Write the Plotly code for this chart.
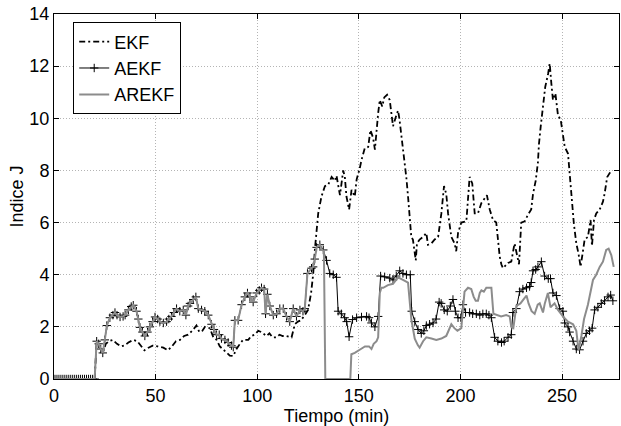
# Indice J vs tiempo: EKF / AEKF / AREKF comparison

import plotly.graph_objects as go

# ── Data ───────────────────────────────────────────────
EKF_T = [0, 20, 21, 22.5, 24, 25.5, 27, 29, 31, 33, 35, 36.6, 39, 41, 42.6, 44.5, 46.5,
         48.5, 51, 53.8, 56, 58, 60, 62, 64, 66, 68, 70.1, 71.5, 73, 74.3, 76.7, 78.4,
         80, 81.6, 83, 84.5, 86.5, 88.2, 89.8, 91.5, 93, 95.6, 97, 98.8, 100.5, 102,
         103.5, 104.6, 106, 107.5, 109.5, 111, 112.5, 114.4, 116.9, 118.5, 120, 121.5,
         123.4, 125, 126.5, 127.5, 128.4, 129.2, 130, 131.6, 133.3, 134.9, 136.6, 138.2,
         139, 140.7, 142.3, 143.1, 143.9, 145.2, 146.4, 148, 148.9, 150.5, 151.3, 152.9,
         154.6, 155.7, 157, 157.9, 158.7, 159.5, 160.3, 161.5, 162.5, 163.9, 165.2, 166,
         166.8, 168.4, 169.3, 170, 170.9, 172.5, 173.4, 174.2, 175, 175.8, 176.6, 178,
         178.6, 179.9, 181.6, 183.2, 184, 185.7, 187.3, 189, 190.6, 191.9, 193, 193.9,
         195.5, 197.1, 197.9, 198.8, 200.4, 202.9, 204.5, 205.8, 207, 208.6, 210.3,
         211.9, 213, 214.4, 216, 217.6, 218.5, 219.3, 220.1, 220.9, 223.4, 225, 226.6,
         227.5, 228.8, 229.9, 231.6, 233.2, 234.8, 235.7, 237, 238.1, 238.6, 239.5,
         240.6, 241.7, 243.1, 243.9, 244.7, 245.5, 246.7, 248, 249.3, 251.3, 252.9,
         253.7, 254.9, 255.8, 257, 258.1, 259.1, 259.9, 261.1, 262.7, 264, 264.7, 265.7,
         266.8, 268.5, 270.1, 270.9, 272.2, 273.4, 274.5]
EKF_J = [0, 0, 1.45, 1.2, 1.0, 1.35, 1.45, 1.5, 1.35, 1.25, 1.3, 1.4, 1.5, 1.45, 1.3, 1.1, 1.2,
         1.28, 1.25, 1.2, 1.1, 1.25, 1.45, 1.5, 1.65, 1.7, 1.85, 2.05, 1.8, 1.85, 2.0, 1.95, 1.6,
         1.5, 1.25, 1.15, 1.05, 0.9, 0.88, 1.15, 1.35, 1.5, 1.5, 1.65, 1.7, 1.85, 1.8,
         1.7, 1.65, 1.75, 1.6, 1.6, 1.7, 1.65, 1.65, 1.6, 2.1, 2.2, 2.25,
         2.45, 2.65, 3.3, 4.0, 5.0, 5.8, 6.35, 7.0, 7.4, 7.45, 7.75, 7.6,
         7.8, 7.05, 8.0, 7.75, 7.0, 6.5, 7.25, 7.0, 7.65, 8.1, 8.4, 8.85,
         8.9, 9.55, 9.25, 8.8, 9.7, 10.2, 10.7, 10.45, 10.8, 10.9, 10.7, 10.2,
         9.7, 10.1, 10.3, 9.95, 9.35, 8.5, 7.7, 7.0, 6.15, 5.45, 5.35, 4.55,
         5.2, 5.35, 5.45, 5.6, 5.15, 5.2, 5.35, 5.45, 6.35, 7.4, 7.1, 6.35,
         5.45, 5.2, 4.9, 5.6, 6.0, 6.05, 7.75, 7.5, 6.35, 6.35, 6.75,
         6.95, 7.05, 6.5, 6.1, 6.0, 5.35, 4.7, 4.4, 4.25, 4.45, 4.5, 5.2,
         4.85, 4.4, 6.0, 6.05, 6.3, 6.5, 7.1, 7.6, 8.3, 9.0, 9.7,
         10.45, 11.2, 11.7, 12.1, 11.35, 10.7, 10.95, 10.1, 9.95, 8.9, 8.65,
         7.9, 7.0, 5.95, 5.2, 4.8, 4.3, 4.7, 5.35, 5.45, 6.1, 5.1, 6.1,
         6.35, 6.5, 6.8, 7.1, 7.75, 7.9, 7.95]

# AEKF and AREKF coincide up to ~131 min
SHARED_T = [0, 1, 2, 3, 4, 5, 6, 7, 8, 9, 10, 11, 12, 13, 14, 15, 16, 17, 18, 19, 20,
            21, 22, 23, 24, 25, 26, 27.5, 29, 30, 31, 32.5, 34, 35, 36.6, 38, 39, 40.6,
            41.5, 42.3, 43.5, 44.7, 46, 47.2, 48.5, 49.7, 51, 52.1, 53.8, 55.4, 56.5,
            57.8, 59, 60.3, 61.9, 63.6, 64.9, 66, 66.9, 68.5, 69.8, 71, 72.6, 74.2,
            75.9, 77.5, 78.7, 80, 81.3, 82.4, 84.1, 85.7, 87.3, 88.2, 89, 90.6, 92.3,
            93.9, 95.2, 96.4, 98, 99.7, 101, 102.1, 103.4, 104.1, 105, 106.2, 107.9,
            109.5, 111.1, 112.8, 114.4, 116, 117.7, 119.3, 121, 122.5, 123.4, 124.7,
            126.7, 127.5, 128.3, 129.2, 130.8]
SHARED_J = [0, 0, 0, 0, 0, 0, 0, 0, 0, 0, 0, 0, 0, 0, 0, 0, 0, 0, 0, 0, 0,
            1.45, 1.35, 1.15, 1.0, 1.5, 2.05, 2.35, 2.45, 2.55, 2.45, 2.38, 2.4, 2.45, 2.65,
            2.78, 2.83, 2.6, 2.3, 1.98, 1.8, 1.65, 1.8, 2.0, 2.2, 2.38, 2.3, 2.2, 2.15,
            2.2, 2.3, 2.4, 2.55, 2.7, 2.6, 2.65, 2.45, 2.8, 2.9, 3.05, 3.15, 2.7, 2.65,
            2.6, 2.45, 2.1, 1.9, 1.7, 1.7, 1.55, 1.5, 1.4, 1.28, 1.22, 2.25, 2.25, 2.85,
            3.15, 3.3, 3.15, 2.95, 3.3, 3.4, 3.5, 3.45, 2.5, 3.25, 2.8, 2.45,
            2.5, 2.7, 2.7, 2.4, 2.2, 2.7, 2.4, 2.65, 2.6, 2.7, 4.05,
            4.25, 4.3, 4.6, 5.05, 5.15]

AEKF_TAIL_T = [132.5, 134.1, 135.7, 137.4, 139, 139.8, 141.4, 143, 144, 145.2, 146.9, 148.9,
               151.3, 153.8, 155, 156.2, 157.9, 159.5, 160.7, 162.7, 165.2, 166.8, 168.4,
               170.1, 171.7, 173.4, 175.3, 176, 177.5, 179.1, 180.7, 182, 183.2, 184.8,
               186.5, 188, 189.5, 190.5, 192, 193.5, 195, 196.3, 197.5, 198.8, 200.2,
               201.2, 202.5, 204.5, 206, 207.8, 209.5, 211, 212.7, 214, 215.2, 216.8,
               218.4, 220.2, 221.5, 223.4, 225, 225.8, 227.5, 229.1, 230.7, 232.5, 234,
               234.8, 235.7, 237, 238.1, 239.8, 241.4, 243.2, 244.3, 245.5, 247.2, 248.8,
               250.4, 251.3, 252.9, 253.7, 255.4, 257, 258.6, 260.3, 261.9, 263.5, 264.8,
               266, 267.6, 269.3, 270.9, 272.6, 273.9, 275]
AEKF_TAIL_J = [4.95, 4.55, 4.05, 4.0, 3.9, 2.6, 2.5, 2.35, 2.2, 1.62, 2.28, 2.35,
               2.38, 2.4, 2.35, 2.15, 2.0, 2.4, 3.95, 3.92, 3.87, 3.8, 3.95,
               4.15, 4.05, 4.0, 4.0, 2.6, 2.2, 1.9, 1.75, 1.85, 2.05, 2.1,
               2.15, 2.3, 2.95, 2.9, 2.65, 2.6, 2.8, 3.05, 2.6, 2.35, 2.35,
               2.85, 2.55, 2.55, 2.5, 2.5, 2.45, 2.5, 2.5, 2.45, 2.35, 1.6,
               1.45, 1.4, 1.45, 1.6, 1.7, 2.55, 2.7, 3.35, 3.45, 3.5, 3.55,
               3.7, 4.15, 4.2, 4.3, 4.5, 3.95, 3.85, 3.85, 3.3, 3.2, 2.7,
               2.6, 2.15, 2.0, 1.8, 1.45, 1.15, 1.12, 1.45, 1.75, 1.85, 1.95,
               2.65, 2.75, 2.9, 3.0, 3.15, 3.22, 3.0]

AREKF_TAIL_T = [131.5, 132.8, 133.5, 145.8, 146.3, 148, 149.7, 151, 153, 155, 156.2, 157.3,
                158.7, 159.5, 160.3, 161.1, 162, 164.3, 166.8, 168, 169.3, 171.7, 173,
                174.2, 175.8, 177.5, 179, 179.9, 181.6, 183.2, 185.7, 188.1, 190.6, 193,
                195.5, 197, 198.5, 200.4, 202, 203.7, 205.3, 206.5, 207.5, 208.6, 209.5,
                210.3, 211.5, 212.7, 214, 215.2, 216.2, 218.5, 220, 222.5, 224.2, 225,
                226, 227.5, 229.5, 231.5, 232.5, 233.5, 235, 236.5, 238, 239, 240.6,
                241.5, 243, 244.3, 246.3, 248, 250.4, 252.9, 255.4, 257, 258.1, 259.5,
                260.8, 262.7, 264, 265.2, 266.8, 268.5, 270.1, 271.7, 272.9, 274.2, 275.4]
AREKF_TAIL_J = [5.0, 4.9, 0, 0, 0.95, 1.0, 1.1, 1.15, 1.25, 1.25, 1.15, 1.35,
                1.45, 1.6, 3.3, 3.5, 3.5, 3.6, 3.65, 3.75, 3.9, 3.8, 3.75,
                3.7, 2.3, 1.55, 1.3, 1.2, 1.45, 1.6, 1.55, 1.5, 1.55, 1.65,
                2.1, 1.95, 1.85, 1.95, 3.35, 3.5, 3.45, 3.15, 3.0, 3.0, 3.3,
                3.4, 3.35, 3.5, 3.5, 3.5, 2.5, 2.45, 2.4, 2.45, 2.4, 2.0,
                1.95, 2.8, 2.9, 3.1, 3.2, 2.9, 2.6, 2.5, 2.85, 2.9, 2.55,
                2.9, 3.3, 2.75, 2.9, 2.65, 2.4, 2.2, 2.1, 1.85, 1.1, 1.65,
                2.3, 2.85, 3.3, 3.8, 4.0, 4.3, 4.5, 4.95, 5.0, 4.75, 4.3]

X_TICKS = [0, 50, 100, 150, 200, 250]
Y_TICKS = [0, 2, 4, 6, 8, 10, 12, 14]

FONT_FAMILY = "Liberation Sans, Arial, Helvetica, sans-serif"
GRID_COLOR = "#b4b4b4"
GRAY = "#8c8c8c"

fig = go.Figure()

fig.add_trace(go.Scatter(
    x=EKF_T, y=EKF_J,
    mode="lines",
    name="EKF",
    line=dict(color="black", width=1.8, dash="6px,3px,2px,3px"),
))

fig.add_trace(go.Scatter(
    x=SHARED_T + AEKF_TAIL_T, y=SHARED_J + AEKF_TAIL_J,
    mode="lines+markers",
    name="AEKF",
    line=dict(color="black", width=1),
    marker=dict(symbol="cross-thin", size=6, line=dict(color="black", width=1)),
))

fig.add_trace(go.Scatter(
    x=SHARED_T + AREKF_TAIL_T, y=SHARED_J + AREKF_TAIL_J,
    mode="lines",
    name="AREKF",
    line=dict(color=GRAY, width=2),
))

axis_common = dict(
    showline=True, linecolor="black", linewidth=1, mirror="ticks",
    ticks="inside", ticklen=5, tickcolor="black", tickwidth=1,
    showgrid=True, gridcolor=GRID_COLOR, griddash="1px,2px", gridwidth=1,
    zeroline=False, automargin=False,
    tickfont=dict(size=18, color="black"),
)

fig.update_layout(
    width=621, height=426,
    template="none",
    font=dict(family=FONT_FAMILY, size=18, color="black"),
    paper_bgcolor="white", plot_bgcolor="white",
    margin=dict(l=54, r=2, t=14, b=47),
    xaxis=dict(range=[0, 278], tickvals=X_TICKS,
               title=dict(text="Tiempo (min)", font=dict(size=18), standoff=0),
               **axis_common),
    yaxis=dict(range=[0, 14], tickvals=Y_TICKS,
               title=dict(text="Indice J", font=dict(size=18), standoff=1),
               **axis_common),
    showlegend=True,
    legend=dict(x=0.034, y=0.977, xanchor="left", yanchor="top",
                bordercolor="black", borderwidth=1, bgcolor="white",
                font=dict(size=18), itemwidth=30, tracegroupgap=0),
)

# the page's default body margin would push the figure off the 621x426 window
fig.write_html("out.html", config={"displayModeBar": False},
               post_script="document.body.style.margin='0';")
